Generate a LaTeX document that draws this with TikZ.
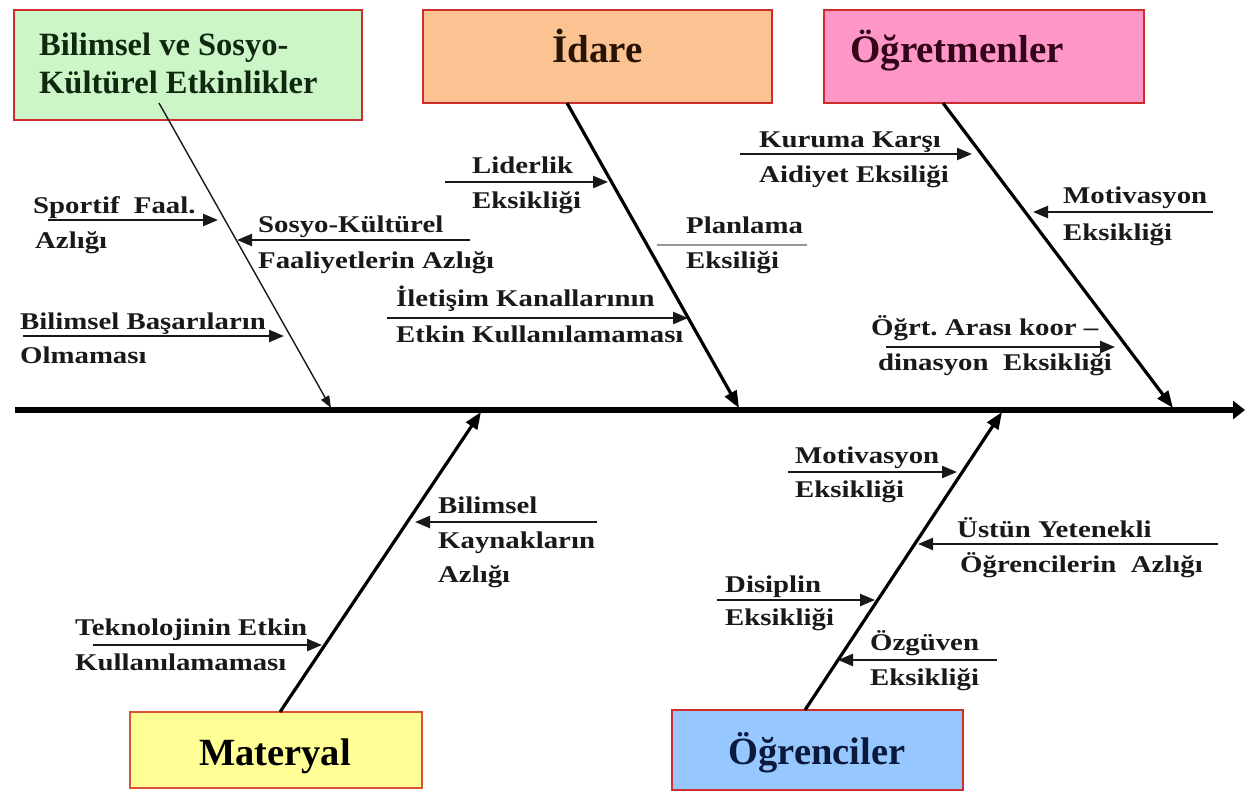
\documentclass[tikz,border=0pt]{standalone}
\usepackage{fontspec}
\setmainfont{Liberation Serif}
\newfontfamily\causefont{Liberation Serif}[FakeStretch=1.2]
\newfontfamily\headfont{Liberation Serif}
\usetikzlibrary{arrows.meta}

\definecolor{boxred}{RGB}{205,45,45}
\definecolor{boxorange}{RGB}{215,85,50}
\definecolor{greenfill}{RGB}{204,245,200}
\definecolor{peachfill}{RGB}{250,195,145}
\definecolor{pinkfill}{RGB}{255,150,200}
\definecolor{yellowfill}{RGB}{255,255,150}
\definecolor{bluefill}{RGB}{150,200,255}
\definecolor{ink}{RGB}{25,25,25}
\definecolor{greenink}{RGB}{15,40,15}
\definecolor{brownink}{RGB}{40,20,5}
\definecolor{plumink}{RGB}{50,5,25}
\definecolor{navyink}{RGB}{10,25,60}
\definecolor{rulegrey}{RGB}{150,150,150}

\tikzset{
  catbox/.style={draw=boxred, line width=2pt, rectangle, inner sep=0pt},
  headtext/.style={font=\headfont\bfseries\fontsize{39}{44}\selectfont, inner sep=0pt, anchor=base},
  foottext/.style={font=\headfont\bfseries\fontsize{38.5}{44}\selectfont, inner sep=0pt, anchor=base},
  cause/.style={font=\causefont\bfseries\fontsize{24}{28}\selectfont, text=ink, inner sep=0pt, anchor=base west},
  causearrow/.style={line width=2.4pt, draw=ink, -{Triangle[length=15pt,width=12pt]}},
  bonethick/.style={line width=3.2pt, draw=black, -{Triangle[length=17pt,width=13pt]}},
  bonethin/.style={line width=1.4pt, draw=ink, -{Triangle[length=12pt,width=9pt]}},
  spine/.style={line width=5.5pt, draw=black, -{Triangle[length=12pt,width=18pt]}},
}

\begin{document}
\begin{tikzpicture}[x=1pt, y=-1pt]
\useasboundingbox (0,0) rectangle (1245,790);
\fill[white] (0,0) rectangle (1245,790);

% ---------- category boxes ----------
\node[catbox, fill=greenfill,  minimum width=348pt, minimum height=110pt] (bilim)   at (188,65)    {};
\node[catbox, fill=peachfill,  minimum width=349pt, minimum height=93pt]  (idare)   at (597.5,56.5) {};
\node[catbox, fill=pinkfill,   minimum width=320pt, minimum height=93pt]  (ogretmen) at (984,56.5)  {};
\node[catbox, draw=boxorange, fill=yellowfill, minimum width=292pt, minimum height=76pt]  (materyal) at (276,750) {};
\node[catbox, fill=bluefill,   minimum width=291pt, minimum height=80pt]  (ogrenci) at (817.5,750) {};

% ---------- spine ----------
\coordinate (tail) at (15,410);
\coordinate (head) at (1245,410);
\draw[spine] (tail) -- (head);

% ---------- main bones ----------
\coordinate (bilimFoot) at (159,103);   \coordinate (bilimJoin) at (331,408);
\coordinate (idareFoot) at (567,103);   \coordinate (idareJoin) at (739,408);
\coordinate (ogrtFoot)  at (943,103);   \coordinate (ogrtJoin)  at (1173,408);
\coordinate (matFoot)   at (280,712);   \coordinate (matJoin)   at (481,412);
\coordinate (ogrnFoot)  at (805,710);   \coordinate (ogrnJoin)  at (1002,412);
\draw[bonethin]  (bilimFoot) -- (bilimJoin);
\draw[bonethick] (idareFoot) -- (idareJoin);
\draw[bonethick] (ogrtFoot)  -- (ogrtJoin);
\draw[bonethick] (matFoot)   -- (matJoin);
\draw[bonethick] (ogrnFoot)  -- (ogrnJoin);

% ---------- category titles ----------
\node[headtext, anchor=base west, font=\headfont\bfseries\fontsize{32.5}{38}\selectfont, text=greenink] (bilimT1) at (39,55) {Bilimsel ve Sosyo-};
\node[headtext, anchor=base west, font=\headfont\bfseries\fontsize{32.5}{38}\selectfont, text=greenink] (bilimT2) at (39,93) {Kültürel Etkinlikler};
\node[headtext, text=brownink] (idareT) at (597.5,62) {İdare};
\node[headtext, anchor=base west, text=plumink] (ogretmenT) at (850,62) {Öğretmenler};
\node[foottext, text=black] (materyalT) at (275,765) {Materyal};
\node[foottext, text=navyink] (ogrenciT) at (817,764) {Öğrenciler};

% ---------- Bilimsel ve Sosyo-Kültürel Etkinlikler ----------
\node[cause] (spA) at (33,213) {Sportif\ \ Faal.};
\node[cause] (spB) at (35,248) {Azlığı};
\coordinate (spS) at (48,220); \coordinate (spE) at (218,220);
\draw[causearrow] (spS) -- (spE);

\node[cause] (skA) at (258,232) {Sosyo-Kültürel};
\node[cause] (skB) at (258,268) {Faaliyetlerin Azlığı};
\coordinate (skS) at (470,240); \coordinate (skE) at (237,240);
\draw[causearrow] (skS) -- (skE);

\node[cause] (bbA) at (20,329) {Bilimsel Başarıların};
\node[cause] (bbB) at (20,363) {Olmaması};
\coordinate (bbS) at (23,336); \coordinate (bbE) at (284,336);
\draw[causearrow] (bbS) -- (bbE);

% ---------- İdare ----------
\node[cause] (ldA) at (472,173) {Liderlik};
\node[cause] (ldB) at (472,208) {Eksikliği};
\coordinate (ldS) at (445,182); \coordinate (ldE) at (608,182);
\draw[causearrow] (ldS) -- (ldE);

\node[cause] (plA) at (686,233) {Planlama};
\node[cause] (plB) at (686,268) {Eksiliği};
\coordinate (plS) at (657,245); \coordinate (plE) at (807,245);
\draw[line width=1.2pt, draw=rulegrey] (plS) -- (plE);

\node[cause] (ilA) at (396,306) {İletişim Kanallarının};
\node[cause] (ilB) at (396,342) {Etkin Kullanılamaması};
\coordinate (ilS) at (387,318); \coordinate (ilE) at (688,318);
\draw[causearrow] (ilS) -- (ilE);

% ---------- Öğretmenler ----------
\node[cause] (kkA) at (759,147) {Kuruma Karşı};
\node[cause] (kkB) at (759,182) {Aidiyet Eksiliği};
\coordinate (kkS) at (740,154); \coordinate (kkE) at (972,154);
\draw[causearrow] (kkS) -- (kkE);

\node[cause] (mtA) at (1063,203) {Motivasyon};
\node[cause] (mtB) at (1063,240) {Eksikliği};
\coordinate (mtS) at (1213,212); \coordinate (mtE) at (1033,212);
\draw[causearrow] (mtS) -- (mtE);

\node[cause] (koA) at (871,335) {Öğrt.\ Arası koor –};
\node[cause] (koB) at (878,370) {dinasyon\ \ Eksikliği};
\coordinate (koS) at (886,347); \coordinate (koE) at (1115,347);
\draw[causearrow] (koS) -- (koE);

% ---------- Materyal ----------
\node[cause] (bkA) at (438,513) {Bilimsel};
\node[cause] (bkB) at (438,548) {Kaynakların};
\node[cause] (bkC) at (438,582) {Azlığı};
\coordinate (bkS) at (597,522); \coordinate (bkE) at (415,522);
\draw[causearrow] (bkS) -- (bkE);

\node[cause] (teA) at (75,635) {Teknolojinin Etkin};
\node[cause] (teB) at (75,670) {Kullanılamaması};
\coordinate (teS) at (93,645); \coordinate (teE) at (322,645);
\draw[causearrow] (teS) -- (teE);

% ---------- Öğrenciler ----------
\node[cause] (moA) at (795,463) {Motivasyon};
\node[cause] (moB) at (795,497) {Eksikliği};
\coordinate (moS) at (788,472); \coordinate (moE) at (957,472);
\draw[causearrow] (moS) -- (moE);

\node[cause] (usA) at (957,537) {Üstün Yetenekli};
\node[cause] (usB) at (960,572) {Öğrencilerin\ \ Azlığı};
\coordinate (usS) at (1218,544); \coordinate (usE) at (918,544);
\draw[causearrow] (usS) -- (usE);

\node[cause] (dsA) at (725,592) {Disiplin};
\node[cause] (dsB) at (725,625) {Eksikliği};
\coordinate (dsS) at (717,600); \coordinate (dsE) at (875,600);
\draw[causearrow] (dsS) -- (dsE);

\node[cause] (ozA) at (870,650) {Özgüven};
\node[cause] (ozB) at (870,685) {Eksikliği};
\coordinate (ozS) at (997,660); \coordinate (ozE) at (838,660);
\draw[causearrow] (ozS) -- (ozE);
\end{tikzpicture}
\end{document}
